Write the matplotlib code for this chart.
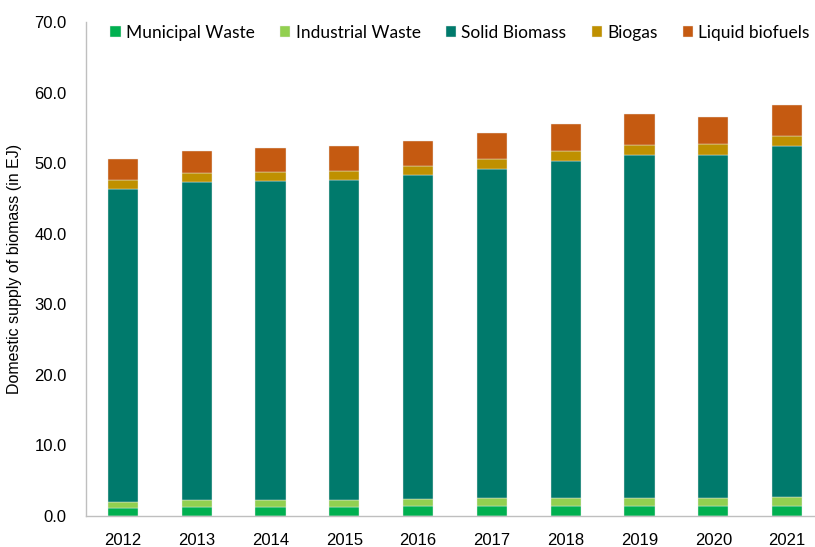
import numpy as np
import matplotlib
matplotlib.use("Agg")
import matplotlib.pyplot as plt
import matplotlib.ticker as ticker

# Domestic supply of biomass by source, EJ
years = ["2012", "2013", "2014", "2015", "2016", "2017", "2018", "2019", "2020", "2021"]
municipal_waste = [1.10, 1.30, 1.30, 1.30, 1.35, 1.35, 1.40, 1.40, 1.40, 1.45]
industrial_waste = [0.95, 0.90, 0.90, 1.00, 1.05, 1.15, 1.15, 1.15, 1.20, 1.25]
solid_biomass = [44.35, 45.10, 45.30, 45.30, 45.90, 46.70, 47.75, 48.65, 48.60, 49.80]
biogas = [1.20, 1.30, 1.30, 1.30, 1.30, 1.40, 1.40, 1.40, 1.50, 1.40]
liquid_biofuels = [2.95, 3.10, 3.40, 3.50, 3.60, 3.70, 3.90, 4.30, 3.90, 4.30]

series = [
    ("Municipal Waste", municipal_waste, "#00B050"),
    ("Industrial Waste", industrial_waste, "#92D050"),
    ("Solid Biomass", solid_biomass, "#007A6C"),
    ("Biogas", biogas, "#BF9000"),
    ("Liquid biofuels", liquid_biofuels, "#C55A11"),
]

plt.rcParams["font.family"] = ["Liberation Sans", "DejaVu Sans"]

fig = plt.figure(figsize=(8.15, 5.47), dpi=100)
ax = fig.add_axes([0.1055, 0.0567, 0.9055, 0.903])

x = np.arange(len(years))
bottom = np.zeros(len(years))
for name, values, color in series:
    ax.bar(x, values, width=0.41, bottom=bottom, color=color, label=name,
           edgecolor="#E8E8E8", linewidth=0.3)
    bottom += np.array(values)

ax.set_xlim(-0.5, 9.5)
ax.set_ylim(0, 70)
ax.set_xticks(x)
ax.set_xticklabels(years, fontsize=12)
ax.yaxis.set_major_locator(ticker.MultipleLocator(10))
ax.yaxis.set_major_formatter(ticker.FormatStrFormatter("%.1f"))
ax.tick_params(axis="y", labelsize=12, length=0, pad=14)
ax.tick_params(axis="x", length=0, pad=12)
ax.set_ylabel("Domestic supply of biomass (in EJ)", fontsize=11.5, labelpad=9)

for side in ["top", "right"]:
    ax.spines[side].set_visible(False)
for side in ["left", "bottom"]:
    ax.spines[side].set_color("#BFBFBF")
    ax.spines[side].set_linewidth(1.0)

fig.legend(loc="center", bbox_to_anchor=(0.5645, 0.94), ncol=5, frameon=False,
           handlelength=0.6, handleheight=0.6, handletextpad=0.3,
           columnspacing=1.45, prop={"family": ["Lato", "DejaVu Sans"], "size": 12.5})

fig.savefig("out.png", dpi=100)
